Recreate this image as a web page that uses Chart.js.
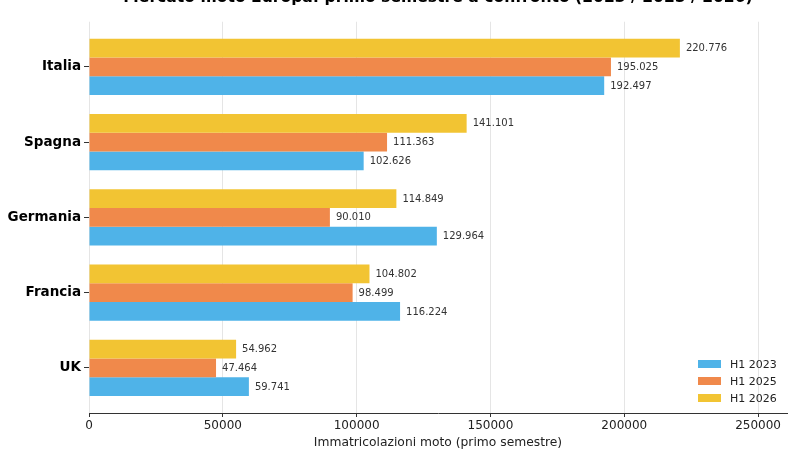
<!DOCTYPE html>
<html>
<head>
<meta charset="utf-8">
<script src="https://cdn.jsdelivr.net/npm/chart.js@4.4.1/dist/chart.umd.min.js"></script>
<style>
html,body{margin:0;padding:0;background:#fff;}
#wrap{position:relative;width:799px;height:450px;overflow:hidden;}
canvas{display:block;}
</style>
</head>
<body>
<div id="wrap"><canvas id="c" width="799" height="450"></canvas></div>
<script>
const titleText = "Mercato moto Europa: primo semestre a confronto (2023 / 2025 / 2026)";
const categories = ["Italia", "Spagna", "Germania", "Francia", "UK"];
const seriesLabels = ["H1 2023", "H1 2025", "H1 2026"];
const h1_2023 = [192497, 102626, 129964, 116224, 59741];
const h1_2025 = [195025, 111363, 90010, 98499, 47464];
const h1_2026 = [220776, 141101, 114849, 104802, 54962];
const xTicks = [0, 50000, 100000, 150000, 200000, 250000];
const xAxisTitle = "Immatricolazioni moto (primo semestre)";

const colors = { "H1 2023": "#4FB3E8", "H1 2025": "#F0894B", "H1 2026": "#F2C433" };

function fmt(v) { return String(v).replace(/\B(?=(\d{3})+(?!\d))/g, "."); }
function pts(arr) { return arr.map((v, i) => ({ x: v, y: i })); }

// datasets ordered top-to-bottom within a group (2026 top), legend shown in 2023..2026 order
const datasets = [
  { label: seriesLabels[2], data: pts(h1_2026), backgroundColor: colors["H1 2026"] },
  { label: seriesLabels[1], data: pts(h1_2025), backgroundColor: colors["H1 2025"] },
  { label: seriesLabels[0], data: pts(h1_2023), backgroundColor: colors["H1 2023"] }
];

const valueLabels = {
  id: "valueLabels",
  afterDatasetsDraw(chart) {
    const ctx = chart.ctx;
    ctx.save();
    ctx.font = "10px 'DejaVu Sans'";
    ctx.fillStyle = "#333333";
    ctx.textAlign = "left";
    ctx.textBaseline = "middle";
    chart.data.datasets.forEach((ds, di) => {
      const meta = chart.getDatasetMeta(di);
      meta.data.forEach((bar, i) => {
        ctx.fillText(fmt(ds.data[i].x), bar.x + 6, bar.y + 0.5);
      });
    });
    ctx.restore();
  }
};

const innerLegend = {
  id: "innerLegend",
  afterDraw(chart) {
    const ctx = chart.ctx;
    const a = chart.chartArea;
    ctx.save();
    ctx.font = "11px 'DejaVu Sans'";
    ctx.textBaseline = "middle";
    ctx.textAlign = "left";
    const rowH = 17;
    const y0 = a.bottom - 49;
    const x0 = a.right - 89;
    seriesLabels.forEach((lab, k) => {
      const y = y0 + k * rowH;
      ctx.fillStyle = colors[lab];
      ctx.fillRect(x0, y - 4, 23, 8);
      ctx.fillStyle = "#222222";
      ctx.fillText(lab, x0 + 32, y + 1);
    });
    ctx.restore();
  }
};

new Chart(document.getElementById("c"), {
  type: "bar",
  data: { datasets },
  plugins: [valueLabels, innerLegend],
  options: {
    indexAxis: "y",
    responsive: false,
    animation: false,
    devicePixelRatio: 1,
    layout: { padding: { left: 0, right: 12, top: 0, bottom: 0 } },
    datasets: { bar: { categoryPercentage: 0.75, barPercentage: 1.0 } },
    plugins: {
      legend: { display: false },
      tooltip: { enabled: false },
      title: {
        display: true,
        text: titleText,
        fullSize: false,
        color: "#000000",
        font: { family: "DejaVu Sans", size: 15.6, weight: "bold" },
        padding: { top: -11, bottom: 14 }
      }
    },
    scales: {
      x: {
        type: "linear",
        min: 0,
        max: 260800,
        afterBuildTicks(s) { s.ticks = xTicks.map(v => ({ value: v })); },
        afterFit(s) { s.height = 37; },
        ticks: {
          includeBounds: false,
          color: "#222222",
          font: { family: "DejaVu Sans", size: 12 },
          padding: 2,
          maxRotation: 0,
          callback: (v) => String(v)
        },
        grid: { color: "#e5e5e5", lineWidth: 1, tickColor: "#333333", tickLength: 4, drawTicks: true },
        border: { display: true, color: "#333333", width: 1 },
        title: {
          display: true,
          text: xAxisTitle,
          color: "#222222",
          font: { family: "DejaVu Sans", size: 12.3 },
          padding: { top: 1, bottom: 0 }
        }
      },
      y: {
        type: "linear",
        min: -0.6,
        max: 4.6,
        reverse: true,
        offset: false,
        afterBuildTicks(s) { s.ticks = categories.map((c, i) => ({ value: i })); },
        afterFit(s) { s.width = 89; },
        ticks: {
          color: "#000000",
          font: { family: "DejaVu Sans", size: 13.5, weight: "bold" },
          padding: 3,
          callback: (v) => categories[v] ?? ""
        },
        grid: { offset: false, drawOnChartArea: false, drawTicks: true, tickLength: 5, tickColor: "#333333" },
        border: { display: false }
      }
    }
  }
});
</script>
</body>
</html>
